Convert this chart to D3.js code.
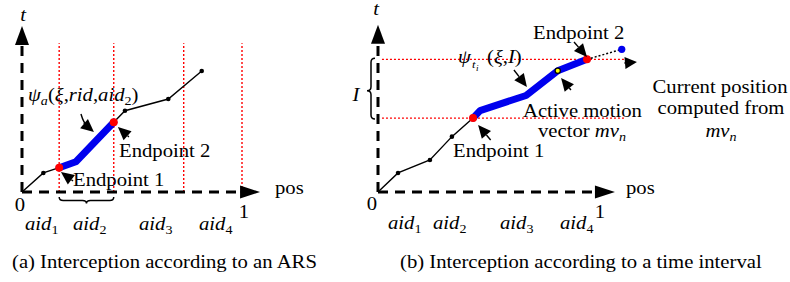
<!DOCTYPE html>
<html><head><meta charset="utf-8">
<script src="https://cdn.jsdelivr.net/npm/d3@7"></script>
<style>
body{margin:0;background:#fff}
svg{display:block}
text{font-family:"Liberation Serif","Times New Roman",serif;fill:#000}
</style>
</head><body>
<svg id="c" width="790" height="282"></svg>
<script>
// ---------- data (pos in [0,1], t in [0,1]) ----------
// panel (a): ARS boundaries and trajectory
const aidBoundsA = [0.169, 0.417, 0.735, 1.0];
const trajPosA = [0, 0.097, 0.169, 0.245, 0.417, 0.468, 0.665, 0.817];
const trajTA   = [0, 0.119, 0.152, 0.189, 0.436, 0.508, 0.581, 0.756];
const interceptA = [2, 4];          // first/last index of intercepted part
const blackDotsA = [1, 5, 6, 7];
// panel (b): trajectory and time interval
const trajPosB = [0, 0.091, 0.236, 0.336, 0.432, 0.464, 0.673, 0.817, 0.95];
const trajTB   = [0, 0.119, 0.200, 0.346, 0.462, 0.509, 0.603, 0.758, 0.829];
const interceptB = [4, 8];
const blackDotsB = [1, 2, 3];
const activeIdxB = 7;
const currentPos = [1.108, 0.892];
const intervalI = [0.462, 0.829];
const aidLabels = ["1", "2", "3", "4"];

const svg = d3.select("#c");
const y = d3.scaleLinear([0, 1], [192, 32]);
const xA = d3.scaleLinear([0, 1], [22, 242]);
const xB = d3.scaleLinear([0, 1], [378, 598]);
const SX = 1.15; // horizontal stretch of text

function tri(g, x1, y1, x2, y2, len, hw) {
  const dx = x2 - x1, dy = y2 - y1, L = Math.hypot(dx, dy);
  const ux = dx / L, uy = dy / L, bx = x2 - ux * len, by = y2 - uy * len;
  g.append("path").attr("d",
    `M${x2},${y2}L${bx - uy * hw},${by + ux * hw}L${bx + uy * hw},${by - ux * hw}Z`)
    .attr("fill", "#000");
  return [bx, by];
}
function arrow(g, x1, y1, x2, y2, len = 12, hw = 5.5) {
  const [bx, by] = tri(g, x1, y1, x2, y2, len, hw);
  const L = Math.hypot(x2 - x1, y2 - y1);
  if (L > len + 0.5)
    g.append("line").attr("x1", x1).attr("y1", y1).attr("x2", bx).attr("y2", by)
      .attr("stroke", "#000").attr("stroke-width", 1.4);
}
function T(x, yy, anchor, parts, size = 18) {
  const t = svg.append("text").attr("transform", `translate(${x},${yy}) scale(${SX},1)`)
    .attr("text-anchor", anchor).attr("font-size", size);
  let shift = 0;
  parts.forEach(p => {
    const o = typeof p === "string" ? { t: p } : p;
    const ts = t.append("tspan").text(o.t);
    if (o.i) ts.attr("font-style", "italic");
    const target = o.sub ? 4 : 0;
    if (target !== shift) { ts.attr("dy", target - shift); shift = target; }
    if (o.sub) ts.attr("font-size", size * 0.68);
  });
  return t;
}
function axes(g, x, yAxisTop, xEnd, xTip) {
  const dash = { "stroke": "#000", "stroke-width": 3, "stroke-dasharray": "10,7" };
  const l1 = g.append("line").attr("x1", x(0)).attr("y1", y(0)).attr("x2", x(0)).attr("y2", y(0.919));
  const l2 = g.append("line").attr("x1", x(0)).attr("y1", y(0)).attr("x2", x(xEnd)).attr("y2", y(0));
  for (const k in dash) { l1.attr(k, dash[k]); l2.attr(k, dash[k]); }
  tri(g, x(0), y(0.5), x(0), y(yAxisTop), 19, 7);
  tri(g, x(0.5), y(0), x(xTip), y(0), 20, 6.5);
}
function traj(g, x, P, Tt, iv) {
  const line = d3.line().x(i => x(P[i])).y(i => y(Tt[i]));
  const idx = d3.range(P.length);
  g.append("path").attr("d", line(idx.filter(i => i <= iv[0])))
    .attr("fill", "none").attr("stroke", "#000").attr("stroke-width", 1.4);
  g.append("path").attr("d", line(idx.filter(i => i >= iv[1])))
    .attr("fill", "none").attr("stroke", "#000").attr("stroke-width", 1.4);
  g.append("path").attr("d", line(idx.filter(i => i >= iv[0] && i <= iv[1])))
    .attr("fill", "none").attr("stroke", "#0000ee").attr("stroke-width", 7)
    .attr("stroke-linejoin", "round").attr("stroke-linecap", "round");
}
const red = { "stroke": "#ff0000", "stroke-width": 1.4, "stroke-dasharray": "2,2" };

// ---------------- panel (a) ----------------
const ga = svg.append("g");
aidBoundsA.forEach(b => {
  const l = ga.append("line").attr("x1", xA(b)).attr("x2", xA(b)).attr("y1", y(0)).attr("y2", y(0.93));
  for (const k in red) l.attr(k, red[k]);
});
axes(ga, xA, 1.037, 0.99, 1.082);
traj(ga, xA, trajPosA, trajTA, interceptA);
ga.selectAll(".bd").data(blackDotsA).join("circle")
  .attr("cx", i => xA(trajPosA[i])).attr("cy", i => y(trajTA[i])).attr("r", 2.3).attr("fill", "#000");
ga.selectAll(".rd").data(interceptA).join("circle")
  .attr("cx", i => xA(trajPosA[i])).attr("cy", i => y(trajTA[i])).attr("r", 4).attr("fill", "#ff0000");
// brace under aid2
{
  const x1 = xA(aidBoundsA[0]), x2 = xA(aidBoundsA[1]), m = (x1 + x2) / 2, y0 = 197, h = 3.5;
  ga.append("path").attr("d",
    `M${x1},${y0}Q${x1},${y0 + h} ${x1 + 4},${y0 + h}L${m - 4},${y0 + h}Q${m},${y0 + h} ${m},${y0 + h + 3}Q${m},${y0 + h} ${m + 4},${y0 + h}L${x2 - 4},${y0 + h}Q${x2},${y0 + h} ${x2},${y0}`)
    .attr("fill", "none").attr("stroke", "#000").attr("stroke-width", 1.5);
}
// annotation arrows (a)
ga.append("path").attr("d", `M${xA(0.268)},${y(0.4875)}Q${xA(0.28)},${y(0.43)} ${xA(0.3)},${y(0.405)}`)
  .attr("fill", "none").attr("stroke", "#000").attr("stroke-width", 1.4);
arrow(ga, xA(0.28), y(0.43), xA(0.327), y(0.375), 13, 6);
arrow(ga, xA(0.486), y(0.344), xA(0.436), y(0.406), 13, 6);
arrow(ga, xA(0.232), y(0.069), xA(0.177), y(0.125), 13, 6);

// ---------------- panel (b) ----------------
const gb = svg.append("g");
intervalI.forEach(v => {
  const l = gb.append("line").attr("x1", xB(0.018)).attr("x2", xB(1.127)).attr("y1", y(v)).attr("y2", y(v));
  for (const k in red) l.attr(k, red[k]);
});
axes(gb, xB, 1.045, 0.973, 1.077);
traj(gb, xB, trajPosB, trajTB, interceptB);
gb.append("line")
  .attr("x1", xB(trajPosB[interceptB[1]])).attr("y1", y(trajTB[interceptB[1]]))
  .attr("x2", xB(currentPos[0])).attr("y2", y(currentPos[1]))
  .attr("stroke", "#000").attr("stroke-width", 1.5).attr("stroke-dasharray", "2,2");
gb.selectAll(".bd").data(blackDotsB).join("circle")
  .attr("cx", i => xB(trajPosB[i])).attr("cy", i => y(trajTB[i])).attr("r", 2.3).attr("fill", "#000");
gb.selectAll(".rd").data(interceptB).join("circle")
  .attr("cx", i => xB(trajPosB[i])).attr("cy", i => y(trajTB[i])).attr("r", 4).attr("fill", "#ff0000");
gb.append("circle").attr("cx", xB(trajPosB[activeIdxB])).attr("cy", y(trajTB[activeIdxB]))
  .attr("r", 2.6).attr("fill", "#ffff00").attr("stroke", "#000").attr("stroke-width", 1.2);
gb.append("circle").attr("cx", xB(currentPos[0])).attr("cy", y(currentPos[1])).attr("r", 3.6).attr("fill", "#0000ee");
// vertical brace for I
{
  const y1 = y(intervalI[1]) - 1, y2 = y(intervalI[0]) + 1, m = (y1 + y2) / 2 + 2, xr = 375, xb = 371;
  gb.append("path").attr("d",
    `M${xr},${y1}Q${xb},${y1} ${xb},${y1 + 4}L${xb},${m - 4}Q${xb},${m} ${xb - 4},${m}Q${xb},${m} ${xb},${m + 4}L${xb},${y2 - 4}Q${xb},${y2} ${xr},${y2}`)
    .attr("fill", "none").attr("stroke", "#000").attr("stroke-width", 1.5);
}
// annotation arrows (b)
arrow(gb, xB(0.618), y(0.7625), xB(0.677), y(0.656), 13, 6);
arrow(gb, xB(0.891), y(0.9375), xB(0.95), y(0.844), 13, 6);
arrow(gb, xB(0.877), y(0.6375), xB(0.832), y(0.7125), 13, 6);
arrow(gb, xB(0.512), y(0.325), xB(0.455), y(0.419), 13, 6);
arrow(gb, xB(1.12), y(0.806), xB(1.177), y(0.8125), 12, 6);

// ---------------- text ----------------
// (a)
T(23, 21, "middle", [{ t: "t", i: true }]);
T(20, 211, "middle", ["0"]);
T(244, 218, "middle", ["1"]);
T(275, 194, "start", ["pos"]);
[25, 73, 139, 199].forEach((x, k) => T(x, 230, "start", [{ t: "aid", i: true }, { t: aidLabels[k], sub: true }]));
T(28, 101, "start", [{ t: "ψ", i: true }, { t: "a", i: true, sub: true }, "(", { t: "ξ", i: true }, ",", { t: "rid", i: true }, ",", { t: "aid", i: true }, { t: "2", sub: true }, ")"]);
T(119, 157, "start", ["Endpoint 2"]);
T(73, 186, "start", ["Endpoint 1"]);
T(12, 268, "start", ["(a) Interception according to an ARS"]);
// (b)
T(376, 15, "middle", [{ t: "t", i: true }]);
T(372, 210, "middle", ["0"]);
T(600, 218, "middle", ["1"]);
T(626, 194, "start", ["pos"]);
[388, 433, 500, 560].forEach((x, k) => T(x, 229, "start", [{ t: "aid", i: true }, { t: aidLabels[k], sub: true }]));
T(356, 101, "middle", [{ t: "I", i: true }]);
T(458, 63, "start", [{ t: "ψ", i: true }]);
T(472, 68, "start", [{ t: "t", i: true }], 11);
T(476, 71, "start", [{ t: "i", i: true }], 8);
T(487, 63, "start", ["(", { t: "ξ", i: true }, ",", { t: "I", i: true }, ")"]);
T(533, 39, "start", ["Endpoint 2"]);
T(523, 117, "start", ["Active motion"]);
T(538, 137, "start", ["vector ", { t: "mv", i: true }, { t: "n", i: true, sub: true }]);
T(453, 157, "start", ["Endpoint 1"]);
T(720, 93, "middle", ["Current position"]);
T(721, 114, "middle", ["computed from"]);
T(721, 137, "middle", [{ t: "mv", i: true }, { t: "n", i: true, sub: true }]);
T(400, 268, "start", ["(b) Interception according to a time interval"]);
</script>
</body></html>
